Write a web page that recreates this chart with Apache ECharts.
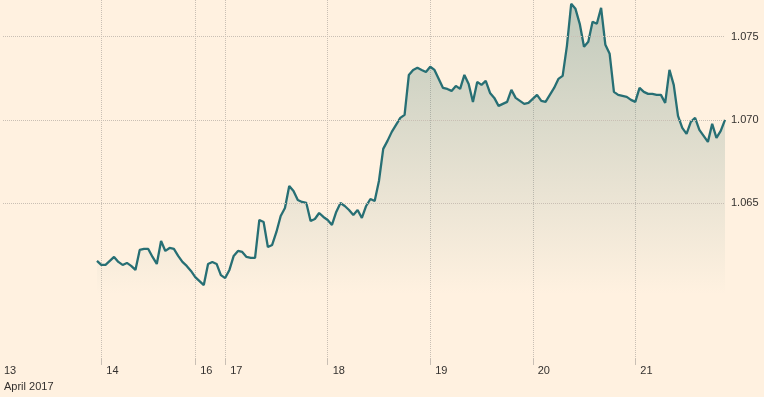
<!DOCTYPE html>
<html>
<head>
<meta charset="utf-8">
<script src="https://cdn.jsdelivr.net/npm/echarts@6/dist/echarts.min.js"></script>
<style>
  html, body { margin: 0; padding: 0; background: #fff1e0; }
  #chart { width: 764px; height: 397px; }
</style>
</head>
<body>
<div id="chart"></div>
<script>
// hourly slots along the x axis, weekend/holiday gaps compressed
var slotCount = 170;
var dayLabels = ['13', '14', '16', '17', '18', '19', '20', '21'];
var daySlots = [0, 23, 45, 52, 76, 100, 124, 148];
var monthLabel = 'April 2017';
var firstSlot = 22;
var yTicks = [1.065, 1.070, 1.075];

var rates = [
  1.06153, 1.06129, 1.06129, 1.06153, 1.06177, 1.06147, 1.06129, 1.06141, 1.06123, 1.06099,
  1.06219, 1.06225, 1.06225, 1.06177, 1.06135, 1.06273, 1.06213, 1.06231, 1.06225, 1.06183,
  1.06147, 1.06123, 1.06093, 1.06056, 1.06032, 1.06008, 1.06135, 1.06147, 1.06135, 1.06068,
  1.06050, 1.06099, 1.06183, 1.06213, 1.06207, 1.06177, 1.06171, 1.06171, 1.06399, 1.06387,
  1.06237, 1.06249, 1.06327, 1.06423, 1.06471, 1.06603, 1.06573, 1.06519, 1.06507, 1.06501,
  1.06393, 1.06405, 1.06441, 1.06417, 1.06399, 1.06369, 1.06447, 1.06501, 1.06483, 1.06459,
  1.06429, 1.06459, 1.06411, 1.06483, 1.06525, 1.06513, 1.06633, 1.06826, 1.06874, 1.06928,
  1.06970, 1.07012, 1.07030, 1.07270, 1.07300, 1.07313, 1.07300, 1.07288, 1.07319, 1.07300,
  1.07246, 1.07192, 1.07186, 1.07174, 1.07204, 1.07186, 1.07270, 1.07216, 1.07108, 1.07228,
  1.07210, 1.07234, 1.07162, 1.07132, 1.07084, 1.07096, 1.07108, 1.07180, 1.07132, 1.07114,
  1.07096, 1.07102, 1.07126, 1.07150, 1.07114, 1.07108, 1.07150, 1.07192, 1.07246, 1.07264,
  1.07445, 1.07697, 1.07667, 1.07577, 1.07439, 1.07469, 1.07589, 1.07577, 1.07673, 1.07451,
  1.07397, 1.07168, 1.07150, 1.07144, 1.07138, 1.07120, 1.07108, 1.07192, 1.07168, 1.07156,
  1.07156, 1.07150, 1.07150, 1.07102, 1.07300, 1.07210, 1.07024, 1.06952, 1.06916, 1.06988,
  1.07012, 1.06940, 1.06904, 1.06868, 1.06976, 1.06892, 1.06934, 1.07000
];

var slots = [];
var values = [];
for (var i = 0; i < slotCount; i++) {
  slots.push(String(i));
  var k = i - firstSlot;
  values.push(k >= 0 && k < rates.length ? rates[k] : null);
}

var gridColor = '#c9bfb4';
var textColor = '#33302e';

var chart = echarts.init(document.getElementById('chart'));
var option = {
  backgroundColor: '#fff1e0',
  animation: false,
  textStyle: { fontFamily: 'Liberation Sans, Arial, sans-serif' },
  grid: { left: 3, right: 39, top: 0, bottom: 39 },
  xAxis: {
    type: 'category',
    data: slots,
    boundaryGap: false,
    axisLine: { show: false },
    axisTick: {
      show: true,
      length: 7,
      interval: function (idx) { return idx > 0 && daySlots.indexOf(idx) >= 0; },
      lineStyle: { color: gridColor }
    },
    splitLine: {
      show: true,
      interval: function (idx) { return idx > 0 && daySlots.indexOf(idx) >= 0; },
      lineStyle: { color: gridColor, type: 'dotted' }
    },
    axisLabel: {
      interval: function (idx) { return daySlots.indexOf(idx) >= 0; },
      align: 'left',
      margin: 5,
      formatter: function (value, idx) {
        var d = daySlots.indexOf(idx);
        if (d === 0) return '{f|' + dayLabels[0] + '}\n{f|' + monthLabel + '}';
        return '{d|' + dayLabels[d] + '}';
      },
      rich: {
        d: { fontSize: 11, color: textColor, padding: [0, 0, 0, 5], lineHeight: 16 },
        f: { fontSize: 11, color: textColor, padding: [0, 0, 0, 1], lineHeight: 16 }
      }
    }
  },
  yAxis: {
    type: 'value',
    position: 'right',
    min: 1.0557,
    max: 1.0772,
    axisLine: { show: false },
    axisTick: { show: false },
    axisLabel: { show: false },
    splitLine: { show: false }
  },
  series: [{
    type: 'line',
    data: values,
    showSymbol: false,
    lineStyle: { color: '#276f74', width: 2.3 },
    itemStyle: { color: '#276f74' },
    areaStyle: {
      color: {
        type: 'linear', x: 0, y: 0, x2: 0, y2: 1,
        colorStops: [
          { offset: 0, color: 'rgba(80,130,122,0.5)' },
          { offset: 0.82, color: 'rgba(80,130,122,0)' }
        ]
      }
    },
    markLine: {
      silent: true,
      symbol: 'none',
      precision: 3,
      lineStyle: { color: gridColor, type: 'dotted', width: 1 },
      label: {
        position: 'end',
        distance: 6,
        color: textColor,
        fontSize: 11,
        formatter: function (p) { return Number(p.value).toFixed(3); }
      },
      data: yTicks.map(function (v) { return { yAxis: v }; })
    }
  }]
};
chart.setOption(option);
</script>
</body>
</html>
